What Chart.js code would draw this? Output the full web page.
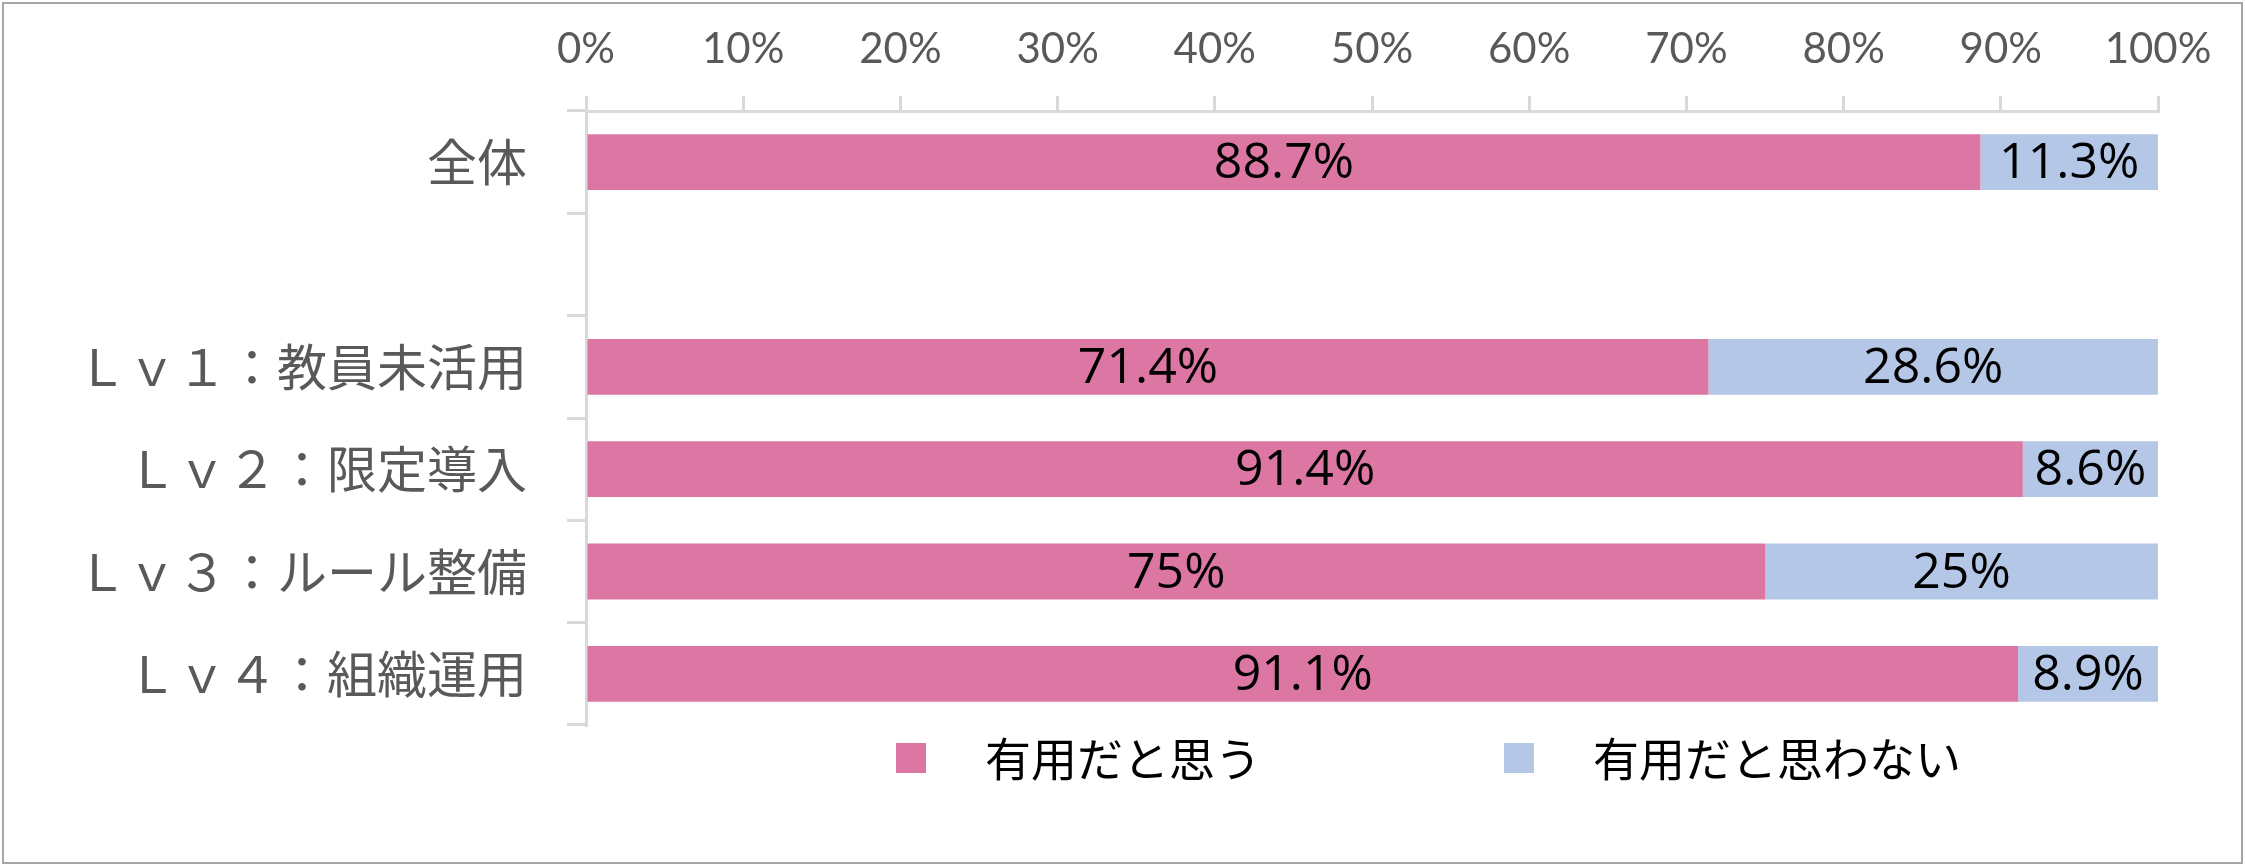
<!DOCTYPE html>
<html lang="ja">
<head>
<meta charset="utf-8">
<title>有用だと思うか</title>
<script src="https://cdn.jsdelivr.net/npm/chart.js@4/dist/chart.umd.min.js"></script>
<style>
  html, body { margin: 0; padding: 0; background: #ffffff; }
  #wrap { position: relative; width: 2245px; height: 866px; }
</style>
</head>
<body>
<div id="wrap"><canvas id="usefulChart"></canvas></div>
<script>
// Data
const categories = ['全体', '', 'Ｌｖ１：教員未活用', 'Ｌｖ２：限定導入', 'Ｌｖ３：ルール整備', 'Ｌｖ４：組織運用'];
const seriesNames = ['有用だと思う', '有用だと思わない'];
const usefulValues = [88.7, null, 71.4, 91.4, 75, 91.1];
const notUsefulValues = [11.3, null, 28.6, 8.6, 25, 8.9];
const xTicks = [0, 10, 20, 30, 40, 50, 60, 70, 80, 90, 100];

const colors = ['#db77a2', '#b4c7e7'];
const axisColor = '#d9d9d9';
const labelColor = '#595959';

// value labels in the middle of each segment
const segmentLabels = {
    id: 'segmentLabels',
    afterDatasetsDraw(chart) {
        const ctx = chart.ctx;
        ctx.save();
        ctx.font = "50px 'Open Sans', sans-serif";
        ctx.fillStyle = '#000000';
        ctx.textAlign = 'center';
        ctx.textBaseline = 'middle';
        chart.data.datasets.forEach((ds, i) => {
            chart.getDatasetMeta(i).data.forEach((bar, j) => {
                const v = ds.data[j];
                if (v === null || v === undefined) return;
                const p = bar.getProps(['x', 'y', 'base'], true);
                ctx.fillText(v + '%', (p.x + p.base) / 2, p.y + 2);
            });
        });
        ctx.restore();
    }
};

// legend below the plot, placed like the original
const bottomLegend = {
    id: 'bottomLegend',
    afterDraw(chart) {
        const ctx = chart.ctx;
        const cy = 758;
        const spots = [896, 1504];
        ctx.save();
        ctx.font = "46px 'Noto Sans CJK JP', sans-serif";
        ctx.textBaseline = 'middle';
        chart.data.datasets.forEach((ds, i) => {
            ctx.fillStyle = ds.backgroundColor;
            ctx.fillRect(spots[i], cy - 15, 30, 30);
            ctx.fillStyle = '#000000';
            ctx.fillText(ds.label, spots[i] + 89, cy + 1);
        });
        // outer frame
        ctx.strokeStyle = '#a6a6a6';
        ctx.lineWidth = 2;
        ctx.strokeRect(3, 3, chart.width - 6, chart.height - 6);
        ctx.restore();
    }
};

const ctx = document.getElementById('usefulChart').getContext('2d');
const usefulChart = new Chart(ctx, {
    type: 'bar',
    data: {
        labels: categories,
        datasets: [
            { label: seriesNames[0], data: usefulValues, backgroundColor: colors[0] },
            { label: seriesNames[1], data: notUsefulValues, backgroundColor: colors[1] }
        ]
    },
    options: {
        indexAxis: 'y',
        responsive: true,
        maintainAspectRatio: false,
        animation: false,
        layout: { padding: { top: 6, left: 10, right: 87, bottom: 141 } },
        datasets: { bar: { categoryPercentage: 1, barPercentage: 0.545, borderWidth: 0 } },
        plugins: {
            legend: { display: false },
            tooltip: { enabled: false }
        },
        scales: {
            x: {
                position: 'top',
                stacked: true,
                min: 0,
                max: 100,
                afterBuildTicks: scale => { scale.ticks = xTicks.map(v => ({ value: v })); },
                afterFit: scale => { scale.height = 105; },
                grid: { drawOnChartArea: false, color: axisColor, lineWidth: 3, tickLength: 15 },
                border: { color: axisColor, width: 3 },
                ticks: {
                    padding: 21,
                    color: labelColor,
                    font: { family: "Lato, sans-serif", size: 42 },
                    callback: v => v + '%'
                }
            },
            y: {
                stacked: true,
                afterFit: scale => { scale.width = 576; },
                grid: { drawOnChartArea: false, color: axisColor, lineWidth: 3, tickLength: 19, offset: true },
                border: { color: axisColor, width: 3 },
                ticks: {
                    padding: 40,
                    color: labelColor,
                    font: { family: "'Noto Sans CJK JP', sans-serif", size: 50 }
                }
            }
        }
    },
    plugins: [segmentLabels, bottomLegend]
});
</script>
</body>
</html>
